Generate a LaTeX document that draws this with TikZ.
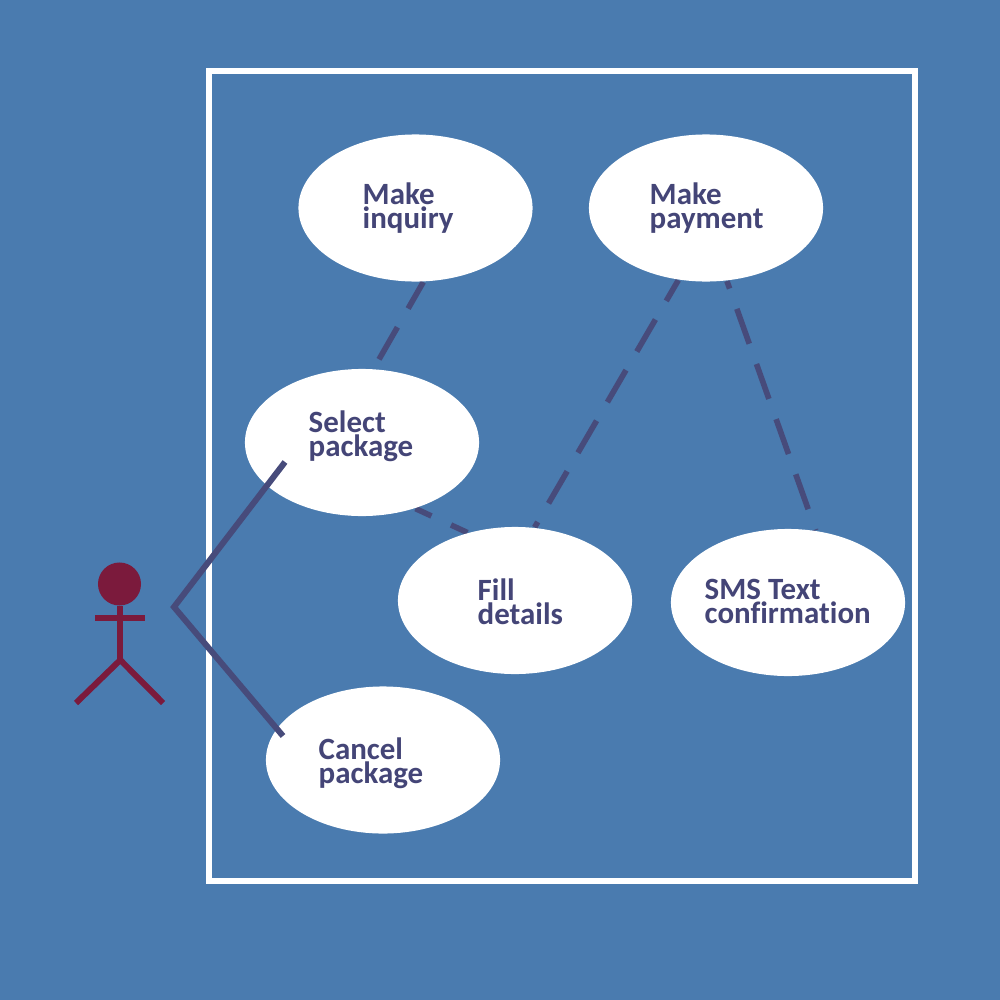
\documentclass[tikz,border=0pt]{standalone}
\usepackage{fontspec}
\setmainfont{Carlito}[Ligatures=NoCommon]
\usetikzlibrary{shapes.geometric,backgrounds}
\definecolor{pagecolor}{HTML}{4A7BAF}
\definecolor{linkcolor}{HTML}{474B7B}
\definecolor{textcolor}{HTML}{444577}
\definecolor{actorcolor}{HTML}{7B1A3C}
\tikzset{
usecase/.style={ellipse,fill=white,inner sep=0pt,minimum width=2.34cm,minimum height=1.47cm},
caption/.style={anchor=west,inner sep=0pt,align=left,text=textcolor,font=\fontsize{8.8pt}{6.8pt}\selectfont\bfseries},
assoc/.style={linkcolor,line width=1.7pt},
dep/.style={linkcolor,line width=1.6pt,dash pattern=on 0.37cm off 0.215cm,dash phase=#1},
limb/.style={actorcolor,line width=1.7pt},
}

\begin{document}
\begin{tikzpicture}[x=0.01cm,y=-0.01cm]
    \useasboundingbox (0,0) rectangle (1000,1000);
    \begin{pgfonlayer}{background}
        \fill[pagecolor] (0,0) rectangle (1000,1000);
    \end{pgfonlayer}
    \draw[white,line width=1.6pt] (209,71) rectangle (915,881);

    \node[usecase] (inquiry) at (415.5,208) {};
    \node[usecase] (payment) at (706,208) {};
    \node[usecase] (select) at (362,442.5) {};
    \node[usecase] (fill) at (515,600.5) {};
    \node[usecase] (sms) at (788,602.5) {};
    \node[usecase] (cancel) at (383,760) {};

    \node[caption] (inquirytext) at (362,208.5) {Make\\inquiry};
    \node[caption] (paymenttext) at (649,208.5) {Make\\payment};
    \node[caption] (selecttext) at (308,436.5) {Select\\package};
    \node[caption] (filltext) at (477,602) {Fill\\details};
    \node[caption] (smstext) at (704,601.5) {SMS Text\\confirmation};
    \node[caption] (canceltext) at (318,763.5) {Cancel\\package};

    % dashed links go behind the ellipses
    \begin{pgfonlayer}{background}
        \draw[dep=0.065cm] (inquiry.-84) -- (select.81);
        \draw[dep=0.13cm] (payment.249) -- (fill.75);
        \draw[dep=0.29cm] (payment.-74) -- (sms.69);
        \draw[dep=0.195cm] (select.-51) -- (fill.125);
    \end{pgfonlayer}

    % actor
    \node[circle,fill=actorcolor,inner sep=0pt,minimum size=0.43cm] (head) at (119.5,584) {};
    \coordinate (hip) at (120.3,660);
    \coordinate (armL) at (95,618);
    \coordinate (armR) at (144.5,618);
    \coordinate (footL) at (76,703);
    \coordinate (footR) at (163,703);
    \draw[limb] (head.south -| hip) -- (hip);
    \draw[limb] (armL) -- (armR);
    \draw[limb] (footL) -- (hip) -- (footR);

    % links from actor
    \coordinate (reach) at (174,607);
    \coordinate (selectend) at (285,462);
    \coordinate (cancelend) at (283,736);
    \draw[assoc] (selectend) -- (reach) -- (cancelend);
\end{tikzpicture}
\end{document}
